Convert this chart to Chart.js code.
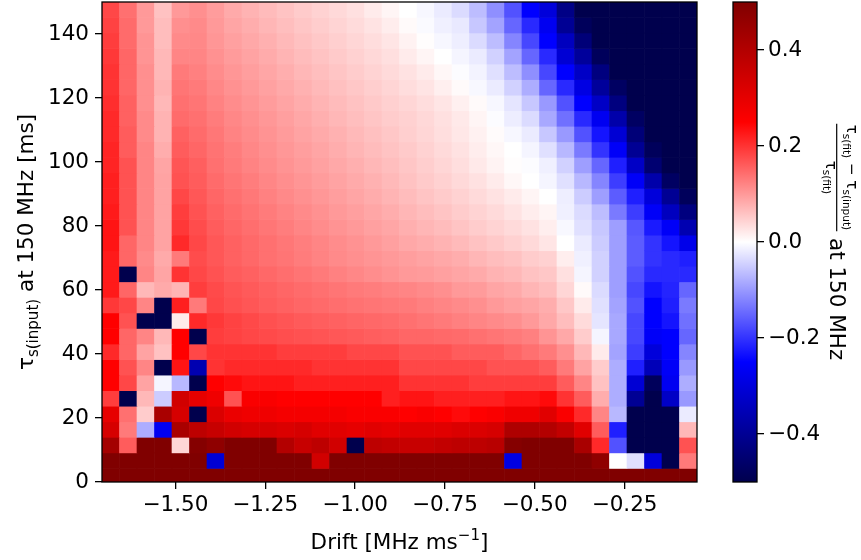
<!DOCTYPE html>
<html>
<head>
<meta charset="utf-8">
<script src="https://cdn.jsdelivr.net/npm/chart.js@4.4.1/dist/chart.umd.min.js"></script>
<style>
html,body{margin:0;padding:0;background:#fff;}
#wrap{position:relative;width:861px;height:560px;}
#main{position:absolute;left:0;top:0;}
#cbar{position:absolute;left:720px;top:0;}
</style>
</head>
<body>
<div id="wrap">
<canvas id="main" width="720" height="560"></canvas>
<canvas id="cbar" width="141" height="560"></canvas>
</div>
<script>
// column centres (drift, MHz/ms)
const drift = [-1.6800,-1.6313,-1.5826,-1.5339,-1.4852,-1.4365,-1.3878,-1.3391,-1.2904,-1.2417,
-1.1930,-1.1443,-1.0956,-1.0469,-0.9982,-0.9495,-0.9008,-0.8521,-0.8034,-0.7547,
-0.7060,-0.6573,-0.6086,-0.5599,-0.5112,-0.4625,-0.4138,-0.3651,-0.3164,-0.2677,
-0.2190,-0.1703,-0.1216,-0.0729]

// row centres (tau input, ms), bottom to top
const tau = [1.81,6.67,11.53,16.39,21.25,26.11,30.97,35.83,40.69,45.55,50.41,55.27,60.13,64.99,69.85,
74.71,79.57,84.43,89.29,94.15,99.01,103.87,108.73,113.59,118.45,123.31,128.17,133.03,137.89,142.75,147.61]

// (tau fit - tau input) / tau fit, one row per tau, bottom to top
const frac = [
[0.5,0.5,0.5,0.5,0.5,0.5,0.5,0.5,0.5,0.5,0.5,0.5,0.5,0.5,0.5,0.5,0.5,0.5,0.5,0.5,0.5,0.5,0.5,0.5,0.5,0.5,0.5,0.5,0.5,0.5,0.5,0.5,0.5,0.5],
[0.5,0.5,0.5,0.5,0.5,0.5,-0.31,0.5,0.5,0.5,0.5,0.5,0.34,0.5,0.5,0.5,0.5,0.5,0.5,0.5,0.5,0.5,0.5,-0.29,0.5,0.5,0.5,0.5,0.47,0,-0.03,-0.3,-0.5,0.13],
[0.43,0.16,0.5,0.5,0.04,0.49,0.47,0.5,0.5,0.5,0.4,0.36,0.38,0.34,-0.5,0.38,0.37,0.36,0.36,0.37,0.38,0.38,0.39,0.49,0.5,0.5,0.5,0.42,0.21,-0.17,-0.5,-0.5,-0.5,0.17],
[0.33,0.13,-0.08,-0.27,0.42,0.38,0.36,0.34,0.33,0.33,0.32,0.33,0.31,0.31,0.3,0.31,0.3,0.31,0.31,0.31,0.32,0.32,0.33,0.41,0.41,0.4,0.37,0.31,0.16,-0.22,-0.5,-0.5,-0.5,0.07],
[0.3,0.14,0.05,0.42,0.33,-0.5,0.32,0.29,0.28,0.28,0.27,0.27,0.27,0.27,0.26,0.26,0.26,0.25,0.26,0.25,0.24,0.25,0.26,0.28,0.28,0.31,0.26,0.21,0.12,-0.07,-0.5,-0.5,-0.5,-0.02],
[0.19,-0.5,0.07,-0.05,0.34,0.3,0.28,0.17,0.26,0.26,0.25,0.25,0.25,0.25,0.25,0.25,0.22,0.23,0.23,0.22,0.22,0.22,0.22,0.23,0.23,0.24,0.2,0.16,0.08,-0.08,-0.4,-0.5,-0.33,-0.1],
[0.25,0.18,0.09,-0.01,-0.07,-0.5,0.25,0.24,0.23,0.23,0.23,0.22,0.22,0.22,0.22,0.22,0.22,0.2,0.2,0.2,0.2,0.19,0.19,0.19,0.19,0.19,0.16,0.12,0.06,-0.08,-0.31,-0.48,-0.27,-0.08],
[0.25,0.17,0.12,-0.5,0.23,-0.36,0.2,0.21,0.21,0.21,0.21,0.21,0.2,0.2,0.2,0.2,0.2,0.18,0.18,0.18,0.18,0.18,0.17,0.17,0.17,0.16,0.13,0.09,0.05,-0.08,-0.22,-0.35,-0.26,-0.1],
[0.21,0.15,0.09,0.06,0.25,0.18,0.2,0.2,0.2,0.2,0.19,0.19,0.19,0.19,0.18,0.18,0.18,0.17,0.17,0.17,0.16,0.16,0.16,0.15,0.14,0.13,0.11,0.07,0.02,-0.09,-0.19,-0.3,-0.25,-0.12],
[0.25,0.15,0.12,0.07,0.25,-0.5,0.19,0.185,0.18,0.177,0.174,0.171,0.168,0.165,0.162,0.158,0.155,0.15,0.15,0.147,0.145,0.14,0.135,0.13,0.125,0.105,0.085,0.05,-0.01,-0.085,-0.18,-0.26,-0.25,-0.15],
[0.25,0.17,-0.5,-0.5,0.02,0.21,0.195,0.185,0.178,0.172,0.167,0.162,0.158,0.155,0.151,0.148,0.145,0.14,0.135,0.13,0.125,0.12,0.115,0.11,0.1,0.085,0.065,0.035,-0.025,-0.085,-0.18,-0.25,-0.23,-0.14],
[0.195,0.18,0.12,-0.5,0.22,0.13,0.18,0.172,0.166,0.16,0.155,0.15,0.146,0.142,0.138,0.135,0.132,0.13,0.125,0.12,0.115,0.11,0.1,0.093,0.088,0.08,0.055,0.02,-0.03,-0.09,-0.17,-0.25,-0.22,-0.13],
[0.225,0.15,0.07,0.083,0.073,0.19,0.177,0.168,0.162,0.156,0.15,0.145,0.14,0.135,0.13,0.127,0.123,0.12,0.115,0.11,0.1,0.098,0.088,0.083,0.073,0.065,0.04,0.005,-0.035,-0.095,-0.18,-0.23,-0.215,-0.15],
[0.225,-0.5,0.12,0.088,0.2,0.18,0.17,0.16,0.155,0.148,0.142,0.136,0.13,0.124,0.118,0.112,0.106,0.1,0.098,0.093,0.088,0.083,0.075,0.07,0.06,0.055,0.03,-0.01,-0.045,-0.095,-0.17,-0.21,-0.21,-0.21],
[0.225,0.15,0.115,0.083,0.13,0.175,0.165,0.155,0.148,0.14,0.135,0.128,0.122,0.115,0.11,0.105,0.1,0.095,0.09,0.085,0.08,0.072,0.065,0.06,0.05,0.045,0.017,-0.015,-0.045,-0.095,-0.16,-0.2,-0.21,-0.22],
[0.23,0.15,0.12,0.09,0.21,0.18,0.165,0.155,0.147,0.14,0.133,0.126,0.12,0.113,0.107,0.1,0.093,0.085,0.08,0.075,0.068,0.06,0.053,0.045,0.037,0.025,0,-0.02,-0.05,-0.095,-0.16,-0.2,-0.23,-0.28],
[0.23,0.17,0.12,0.09,0.195,0.175,0.16,0.15,0.142,0.134,0.127,0.12,0.113,0.106,0.1,0.093,0.087,0.078,0.072,0.066,0.058,0.05,0.043,0.036,0.028,0.017,-0.007,-0.03,-0.055,-0.095,-0.165,-0.225,-0.26,-0.36],
[0.225,0.17,0.12,0.09,0.19,0.17,0.155,0.145,0.137,0.129,0.122,0.115,0.108,0.1,0.094,0.087,0.08,0.072,0.065,0.058,0.05,0.043,0.036,0.027,0.018,0.01,-0.015,-0.035,-0.065,-0.13,-0.19,-0.26,-0.34,-0.43],
[0.22,0.17,0.12,0.09,0.18,0.165,0.15,0.14,0.132,0.124,0.116,0.109,0.102,0.095,0.088,0.081,0.074,0.066,0.058,0.051,0.044,0.036,0.028,0.02,0.01,0,-0.017,-0.05,-0.095,-0.16,-0.22,-0.3,-0.4,-0.48],
[0.22,0.17,0.12,0.09,0.17,0.16,0.145,0.135,0.127,0.119,0.111,0.104,0.097,0.09,0.083,0.076,0.069,0.06,0.052,0.045,0.037,0.029,0.02,0.008,0,-0.01,-0.03,-0.07,-0.12,-0.19,-0.26,-0.37,-0.47,-0.5],
[0.215,0.17,0.12,0.088,0.167,0.157,0.14,0.13,0.122,0.114,0.106,0.099,0.092,0.085,0.078,0.071,0.064,0.056,0.048,0.04,0.032,0.022,0.012,0.002,-0.003,-0.015,-0.045,-0.095,-0.15,-0.22,-0.33,-0.45,-0.5,-0.5],
[0.215,0.16,0.12,0.08,0.16,0.15,0.137,0.127,0.118,0.11,0.102,0.095,0.088,0.08,0.073,0.066,0.059,0.052,0.044,0.036,0.028,0.018,0.008,0,-0.01,-0.03,-0.07,-0.13,-0.2,-0.26,-0.4,-0.48,-0.5,-0.5],
[0.21,0.16,0.115,0.075,0.155,0.145,0.133,0.122,0.114,0.106,0.098,0.09,0.083,0.076,0.069,0.062,0.055,0.047,0.04,0.032,0.024,0.014,0.004,-0.008,-0.02,-0.055,-0.1,-0.17,-0.23,-0.31,-0.44,-0.5,-0.5,-0.5],
[0.21,0.155,0.115,0.075,0.145,0.14,0.128,0.118,0.11,0.102,0.094,0.086,0.078,0.071,0.064,0.057,0.05,0.045,0.038,0.03,0.022,0.01,-0.003,-0.018,-0.035,-0.085,-0.14,-0.21,-0.27,-0.37,-0.47,-0.5,-0.5,-0.5],
[0.205,0.155,0.11,0.07,0.14,0.135,0.123,0.113,0.105,0.097,0.089,0.081,0.074,0.067,0.06,0.053,0.046,0.04,0.033,0.025,0.015,0.005,-0.008,-0.025,-0.055,-0.1,-0.17,-0.25,-0.33,-0.43,-0.5,-0.5,-0.5,-0.5],
[0.2,0.15,0.11,0.075,0.135,0.13,0.118,0.108,0.1,0.092,0.084,0.076,0.069,0.062,0.055,0.048,0.041,0.033,0.026,0.016,0.005,-0.007,-0.02,-0.045,-0.08,-0.15,-0.21,-0.29,-0.39,-0.47,-0.5,-0.5,-0.5,-0.5],
[0.2,0.15,0.11,0.07,0.13,0.125,0.113,0.103,0.095,0.087,0.079,0.071,0.064,0.057,0.05,0.043,0.036,0.028,0.02,0.008,-0.003,-0.012,-0.03,-0.065,-0.11,-0.18,-0.25,-0.33,-0.43,-0.5,-0.5,-0.5,-0.5,-0.5],
[0.195,0.15,0.105,0.07,0.12,0.12,0.108,0.098,0.09,0.082,0.074,0.066,0.059,0.052,0.045,0.038,0.031,0.02,0.01,0,-0.01,-0.02,-0.045,-0.09,-0.15,-0.21,-0.31,-0.39,-0.48,-0.5,-0.5,-0.5,-0.5,-0.5],
[0.19,0.145,0.105,0.065,0.115,0.117,0.103,0.093,0.085,0.077,0.069,0.061,0.054,0.047,0.04,0.033,0.025,0.013,0.002,-0.008,-0.017,-0.035,-0.065,-0.12,-0.18,-0.25,-0.34,-0.44,-0.5,-0.5,-0.5,-0.5,-0.5,-0.5],
[0.185,0.145,0.1,0.065,0.11,0.115,0.1,0.088,0.08,0.072,0.064,0.056,0.049,0.042,0.035,0.027,0.018,0.005,-0.005,-0.015,-0.022,-0.055,-0.09,-0.15,-0.21,-0.27,-0.4,-0.48,-0.5,-0.5,-0.5,-0.5,-0.5,-0.5],
[0.18,0.14,0.1,0.06,0.1,0.11,0.097,0.083,0.075,0.067,0.059,0.051,0.044,0.037,0.03,0.02,0.01,0,-0.008,-0.02,-0.035,-0.065,-0.11,-0.17,-0.25,-0.3,-0.42,-0.5,-0.5,-0.5,-0.5,-0.5,-0.5,-0.5]
]

const xTicks = [-1.5,-1.25,-1.0,-0.75,-0.5,-0.25]
const yTicks = [0,20,40,60,80,100,120,140]
const cbRange = [-0.5,0.5]
const cbTicks = [-0.4,-0.2,0.0,0.2,0.4]

const FONT = '"DejaVu Sans"'
const FS = 21.5

// seismic colormap stops: position, r, g, b
const cmap = [[0,0,0,77],[0.25,0,0,255],[0.5,255,255,255],[0.75,255,0,0],[1,128,0,0]]

function seismic(v){
let t = Math.min(1, Math.max(0, (v - cbRange[0]) / (cbRange[1] - cbRange[0])))
for(let i = 1; i < cmap.length; i++){
if(t <= cmap[i][0]){
const a = cmap[i-1], b = cmap[i]
const f = (t - a[0]) / (b[0] - a[0])
const c = [1,2,3].map(k => Math.round(a[k] + (b[k] - a[k]) * f))
return `rgb(${c[0]},${c[1]},${c[2]})`
}
}
return 'rgb(128,0,0)'
}

function fmt(v, d){
return (v < 0 ? '\u2212' : '') + Math.abs(v).toFixed(d)
}

// no extra room for half tick labels at the ends of an axis
function noPad(s){
s.paddingTop = 0
s.paddingBottom = 0
s.paddingLeft = 0
s.paddingRight = 0
}

// text with sub/superscripts: parts = [text, scale, shift in em]
function richWidth(ctx, parts, size){
let w = 0
parts.forEach(p => { ctx.font = (size * p[1]) + 'px ' + FONT; w += ctx.measureText(p[0]).width })
return w
}
function drawRich(ctx, parts, x, y, size){
let cx = x
parts.forEach(p => {
ctx.font = (size * p[1]) + 'px ' + FONT
ctx.fillText(p[0], cx, y + p[2] * size)
cx += ctx.measureText(p[0]).width
})
}

const frame = {
id: 'frame',
afterDatasetsDraw(chart){
const {ctx, chartArea: a} = chart
ctx.save()
ctx.strokeStyle = '#000'
ctx.lineWidth = 1.3
ctx.strokeRect(a.left, a.top, a.right - a.left, a.bottom - a.top)
ctx.restore()
}
}

const mainTitles = {
id: 'mainTitles',
afterDraw(chart){
const {ctx, chartArea: a} = chart
ctx.save()
ctx.fillStyle = '#000'
ctx.textAlign = 'left'
ctx.textBaseline = 'alphabetic'
const xt = [['Drift [MHz ms',1,0],['\u22121',0.7,-0.42],[']',1,0]]
const xw = richWidth(ctx, xt, FS)
drawRich(ctx, xt, (a.left + a.right) / 2 - xw / 2, 549, FS)
const yt = [['\u03c4',1,0],['s(input)',0.7,0.22],[' at 150 MHz [ms]',1,0]]
const yw = richWidth(ctx, yt, FS)
ctx.translate(33, (a.top + a.bottom) / 2)
ctx.rotate(-Math.PI / 2)
drawRich(ctx, yt, -yw / 2, 0, FS)
ctx.restore()
}
}

const cbTitle = {
id: 'cbTitle',
afterDraw(chart){
const {ctx, chartArea: a} = chart
const small = FS * 0.7
const num = [['\u03c4',1,0],['s(fit)',0.7,0.22],[' \u2212 ',1,0],['\u03c4',1,0],['s(input)',0.7,0.22]]
const den = [['\u03c4',1,0],['s(fit)',0.7,0.22]]
const rest = ' at 150 MHz'
ctx.save()
ctx.fillStyle = '#000'
ctx.strokeStyle = '#000'
ctx.textBaseline = 'alphabetic'
const nw = richWidth(ctx, num, small)
const dw = richWidth(ctx, den, small)
ctx.font = FS + 'px ' + FONT
const rw = ctx.measureText(rest).width
const fw = Math.max(nw, dw) + 2
const start = (a.top + a.bottom) / 2 - (fw + rw) / 2
ctx.translate(110, 0)
ctx.rotate(Math.PI / 2)
drawRich(ctx, num, start + fw / 2 - nw / 2, -16.5, small)
drawRich(ctx, den, start + fw / 2 - dw / 2, 4, small)
ctx.lineWidth = 1.2
ctx.beginPath()
ctx.moveTo(start, -6.7)
ctx.lineTo(start + fw, -6.7)
ctx.stroke()
ctx.font = FS + 'px ' + FONT
ctx.fillText(rest, start + fw, 0)
ctx.restore()
}
}

// build one floating bar per cell
const dDrift = drift[1] - drift[0]
const dTau = tau[1] - tau[0]
const cells = []
frac.forEach((row, r) => {
row.forEach((v, c) => {
cells.push({x: drift[c], y: [tau[r] - dTau / 2, tau[r] + dTau / 2], v: v})
})
})

const tickFont = {family: FONT, size: FS}

new Chart(document.getElementById('main'), {
type: 'bar',
data: {
datasets: [{
data: cells,
backgroundColor: c => c.raw ? seismic(c.raw.v) : '#fff',
borderWidth: 0,
barPercentage: 1,
categoryPercentage: 1,
clip: 0
}]
},
options: {
responsive: false,
animation: false,
devicePixelRatio: 1,
layout: {padding: {left: 0, top: 2, right: 23, bottom: 0}},
plugins: {legend: {display: false}, tooltip: {enabled: false}},
scales: {
x: {
type: 'linear',
offset: false,
min: drift[0] - dDrift / 2,
max: drift[drift.length - 1] + dDrift / 2,
afterBuildTicks: s => { s.ticks = xTicks.map(v => ({value: v})) },
afterFit: s => { s.height = 78; noPad(s) },
grid: {offset: false, drawOnChartArea: false, tickLength: 7, color: '#000', lineWidth: 1.3},
border: {display: false},
ticks: {color: '#000', font: tickFont, padding: 4, maxRotation: 0, autoSkip: false, callback: v => fmt(v, 2)}
},
y: {
type: 'linear',
min: 0,
max: 150,
afterBuildTicks: s => { s.ticks = yTicks.map(v => ({value: v})) },
afterFit: s => { s.width = 102; noPad(s) },
grid: {drawOnChartArea: false, tickLength: 7, color: '#000', lineWidth: 1.3},
border: {display: false},
ticks: {color: '#000', font: tickFont, padding: 6, autoSkip: false, callback: v => fmt(v, 0)}
}
}
},
plugins: [frame, mainTitles]
})

new Chart(document.getElementById('cbar'), {
type: 'bar',
data: {
labels: [''],
datasets: [{
data: [cbRange],
backgroundColor: c => {
const a = c.chart.chartArea
if(!a) return '#fff'
const g = c.chart.ctx.createLinearGradient(0, a.bottom, 0, a.top)
cmap.forEach(s => g.addColorStop(s[0], `rgb(${s[1]},${s[2]},${s[3]})`))
return g
},
borderWidth: 0,
barPercentage: 1,
categoryPercentage: 1
}]
},
options: {
responsive: false,
animation: false,
devicePixelRatio: 1,
layout: {padding: {left: 13, top: 2, right: 0, bottom: 78}},
plugins: {legend: {display: false}, tooltip: {enabled: false}},
scales: {
x: {display: false},
y: {
position: 'right',
min: cbRange[0],
max: cbRange[1],
afterBuildTicks: s => { s.ticks = cbTicks.map(v => ({value: v})) },
afterFit: s => { s.width = 104; noPad(s) },
grid: {drawOnChartArea: false, tickLength: 7, color: '#000', lineWidth: 1.3},
border: {display: false},
ticks: {color: '#000', font: tickFont, padding: 4, autoSkip: false, callback: v => fmt(v, 1)}
}
}
},
plugins: [frame, cbTitle]
})
</script>
</body>
</html>
